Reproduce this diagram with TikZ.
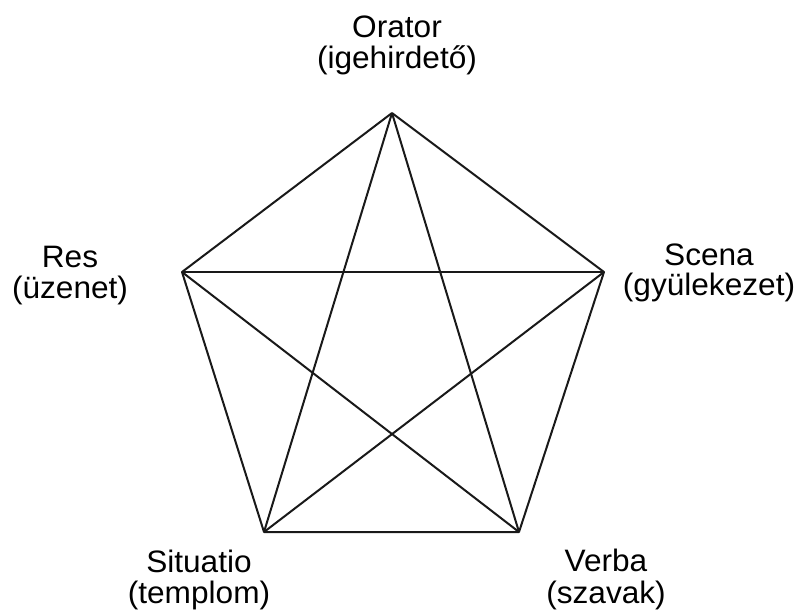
\documentclass[tikz,border=0pt]{standalone}
\usepackage{fontspec}
\setmainfont{Liberation Sans}
\begin{document}
\begin{tikzpicture}[x=1pt,y=-1pt,
  edge/.style={draw=black!90,line width=2pt,line join=round},
  lbl/.style={anchor=base,inner sep=0pt,xscale=1.02,font=\fontsize{31}{31}\selectfont}]
\useasboundingbox (0,0) rectangle (798,614);
\coordinate (T) at (392,113);
\coordinate (L) at (182,272);
\coordinate (R) at (604,272);
\coordinate (BL) at (264,532);
\coordinate (BR) at (519,532);
\draw[edge] (T) -- (L) -- (BL) -- (BR) -- (R) -- (T);
\draw[edge] (T) -- (BL);
\draw[edge] (T) -- (BR);
\draw[edge] (L) -- (R);
\draw[edge] (L) -- (BR);
\draw[edge] (R) -- (BL);
\node[lbl] (o1) at (397,37) {Orator};
\node[lbl] (o2) at (397,68) {(igehirdető)};
\node[lbl] (r1) at (70,267) {Res};
\node[lbl] (r2) at (70,298) {(üzenet)};
\node[lbl] (s1) at (709,265) {Scena};
\node[lbl] (s2) at (709,295) {(gyülekezet)};
\node[lbl] (si1) at (199,572) {Situatio};
\node[lbl] (si2) at (199,603) {(templom)};
\node[lbl] (v1) at (606,571) {Verba};
\node[lbl] (v2) at (606,603) {(szavak)};
\end{tikzpicture}
\end{document}
